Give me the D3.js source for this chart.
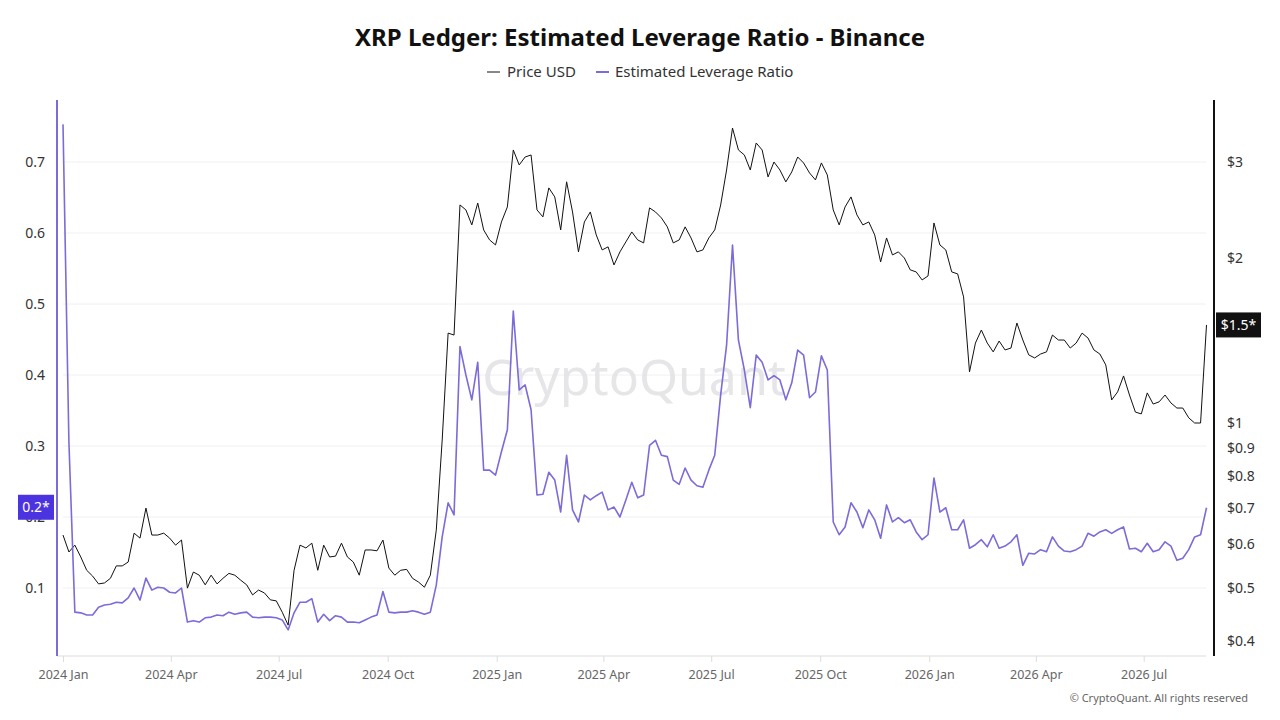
<!DOCTYPE html>
<html>
<head>
<meta charset="utf-8">
<script src="https://cdn.jsdelivr.net/npm/d3@7"></script>
<style>
  body { margin: 0; background: #fff; }
  #chart { width: 1280px; height: 720px; }
  text { font-family: "Segoe UI", "Noto Sans", sans-serif; }
</style>
</head>
<body>
<div id="chart"></div>
<script>
// one point every 5 days, starting 2024-01-01
const startDate = new Date(Date.UTC(2024, 0, 1));
const stepDays = 5;

const priceUSD = [
  0.624,0.581,0.598,0.569,0.538,0.525,0.508,0.510,0.520,0.548,
  0.548,0.557,0.629,0.616,0.699,0.624,0.624,0.629,0.616,0.598,
  0.611,0.499,0.534,0.527,0.506,0.527,0.508,0.520,0.531,0.527,
  0.516,0.506,0.485,0.495,0.489,0.475,0.473,0.451,0.427,0.538,
  0.598,0.591,0.603,0.538,0.598,0.569,0.571,0.603,0.569,0.557,
  0.527,0.586,0.586,0.584,0.611,0.543,0.527,0.538,0.540,0.520,
  0.512,0.501,0.527,0.637,0.931,1.460,1.448,2.504,2.452,2.302,
  2.524,2.254,2.161,2.116,2.331,2.483,3.156,2.963,3.064,3.090,
  2.452,2.381,2.690,2.590,2.254,2.760,2.431,2.055,2.331,2.431,
  2.207,2.072,2.099,1.945,2.055,2.143,2.235,2.161,2.134,2.473,
  2.431,2.371,2.283,2.134,2.161,2.283,2.179,2.055,2.072,2.179,
  2.254,2.504,2.901,3.461,3.156,3.090,2.901,3.250,3.156,2.817,
  3.000,2.901,2.759,2.877,3.064,2.988,2.865,2.782,2.988,2.841,
  2.452,2.302,2.483,2.590,2.401,2.302,2.331,2.207,1.970,2.179,
  2.029,2.055,2.003,1.905,1.889,1.826,1.857,2.321,2.116,2.072,
  1.889,1.873,1.700,1.240,1.400,1.479,1.400,1.349,1.412,1.360,
  1.371,1.523,1.418,1.332,1.315,1.337,1.349,1.448,1.418,1.418,
  1.371,1.400,1.460,1.430,1.360,1.337,1.277,1.102,1.140,1.219,
  1.125,1.047,1.039,1.135,1.083,1.093,1.125,1.088,1.065,1.065,
  1.022,1.000,1.000,1.511
];

const leverageRatio = [
  0.753,0.305,0.066,0.065,0.062,0.062,0.073,0.076,0.077,0.080,
  0.079,0.086,0.100,0.083,0.114,0.097,0.101,0.100,0.094,0.093,
  0.100,0.052,0.054,0.052,0.058,0.059,0.062,0.061,0.066,0.063,
  0.065,0.066,0.059,0.058,0.059,0.059,0.058,0.055,0.041,0.065,
  0.080,0.080,0.085,0.052,0.063,0.054,0.061,0.059,0.052,0.052,
  0.051,0.055,0.059,0.062,0.095,0.066,0.065,0.066,0.066,0.068,
  0.066,0.063,0.066,0.104,0.172,0.220,0.203,0.440,0.400,0.365,
  0.418,0.266,0.266,0.259,0.292,0.323,0.490,0.379,0.386,0.351,
  0.231,0.232,0.263,0.252,0.207,0.287,0.210,0.193,0.231,0.224,
  0.230,0.235,0.210,0.214,0.200,0.224,0.249,0.227,0.231,0.301,
  0.308,0.287,0.285,0.252,0.246,0.269,0.252,0.244,0.242,0.266,
  0.287,0.372,0.442,0.583,0.449,0.407,0.354,0.428,0.418,0.393,
  0.399,0.393,0.365,0.389,0.435,0.428,0.368,0.376,0.427,0.407,
  0.193,0.175,0.186,0.220,0.207,0.185,0.210,0.196,0.170,0.217,
  0.193,0.199,0.192,0.196,0.179,0.168,0.175,0.255,0.207,0.213,
  0.182,0.182,0.196,0.156,0.161,0.168,0.158,0.175,0.156,0.159,
  0.165,0.175,0.132,0.149,0.148,0.154,0.151,0.172,0.159,0.152,
  0.151,0.154,0.159,0.177,0.173,0.179,0.182,0.177,0.182,0.186,
  0.155,0.156,0.151,0.163,0.151,0.154,0.165,0.159,0.139,0.142,
  0.154,0.172,0.175,0.213
];

const leverageTicks = [0.1, 0.2, 0.3, 0.4, 0.5, 0.6, 0.7];
const priceTicks = [0.4, 0.5, 0.6, 0.7, 0.8, 0.9, 1, 2, 3];
const monthTicks = ['2024-01-01','2024-04-01','2024-07-01','2024-10-01','2025-01-01','2025-04-01',
  '2025-07-01','2025-10-01','2026-01-01','2026-04-01','2026-07-01'];

const leverageColor = '#7b6cd9';
const leverageTag = '#4c33e0';
const priceColor = '#111';
const fontStack = '"Segoe UI", "Noto Sans", sans-serif';

function buildRows() {
  return priceUSD.map((p, i) => ({
    date: d3.utcDay.offset(startDate, i * stepDays),
    price: p,
    leverage: leverageRatio[i]
  }));
}

function draw() {
  const rows = buildRows();
  const W = 1280, H = 720;
  const plot = { left: 57, right: 1214, top: 100, bottom: 656 };

  const svg = d3.select('#chart').append('svg')
    .attr('width', W)
    .attr('height', H);

  const x = d3.scaleUtc()
    .domain([startDate, rows[rows.length - 1].date])
    .range([63, 1206.5]);

  const yLev = d3.scaleLinear()
    .domain([0, 0.7])
    .range([659, 162]);

  const yPrice = d3.scaleLog()
    .domain([1, 3])
    .range([423, 162]);

  // title + legend
  svg.append('text')
    .attr('x', W / 2).attr('y', 46)
    .attr('text-anchor', 'middle')
    .style('font-size', '24px')
    .style('font-weight', 700)
    .style('fill', '#111')
    .text('XRP Ledger: Estimated Leverage Ratio - Binance');

  const legend = svg.append('g').attr('transform', 'translate(0,72)');
  legend.append('line').attr('x1', 487).attr('x2', 500).attr('y1', 0).attr('y2', 0)
    .style('stroke', priceColor).style('stroke-width', 1);
  legend.append('text').attr('x', 507).attr('y', 5)
    .style('font-size', '15px').style('fill', '#333').text('Price USD');
  legend.append('line').attr('x1', 596).attr('x2', 609).attr('y1', 0).attr('y2', 0)
    .style('stroke', leverageColor).style('stroke-width', 2);
  legend.append('text').attr('x', 615).attr('y', 5)
    .style('font-size', '15px').style('fill', '#333').text('Estimated Leverage Ratio');

  // grid lines
  svg.append('g')
    .selectAll('line')
    .data(leverageTicks)
    .join('line')
    .attr('x1', 63).attr('x2', 1206)
    .attr('y1', d => yLev(d)).attr('y2', d => yLev(d))
    .style('stroke', '#f0f0f2')
    .style('stroke-width', 1);

  // watermark
  svg.append('text')
    .attr('x', 634).attr('y', 395)
    .attr('text-anchor', 'middle')
    .style('font-size', '50px')
    .style('fill', '#e2e2e6')
    .style('opacity', 0.85)
    .text('CryptoQuant');

  // x axis
  const xAxis = svg.append('g')
    .attr('transform', `translate(0,${plot.bottom})`)
    .call(d3.axisBottom(x)
      .tickValues(monthTicks.map(d => new Date(d + 'T00:00:00Z')))
      .tickFormat(d3.utcFormat('%Y %b'))
      .tickSize(6)
      .tickPadding(8));
  xAxis.select('.domain').attr('d', `M57,0H1206`).style('stroke', '#ddd');
  xAxis.selectAll('.tick line').style('stroke', '#ddd');
  xAxis.selectAll('.tick text')
    .style('font-size', '12.5px')
    .style('fill', '#666')
    .style('font-family', fontStack);

  // left axis (leverage)
  const leftAxis = svg.append('g')
    .attr('transform', `translate(${plot.left},0)`)
    .call(d3.axisLeft(yLev).tickValues(leverageTicks).tickSize(0).tickPadding(12)
      .tickFormat(d3.format('.1f')));
  leftAxis.select('.domain').attr('d', `M0,${plot.top}V${plot.bottom}`)
    .style('stroke', leverageColor).style('stroke-width', 2);
  leftAxis.selectAll('.tick text')
    .style('font-size', '14px')
    .style('fill', '#333')
    .style('font-family', fontStack);

  // right axis (price, log)
  const rightAxis = svg.append('g')
    .attr('transform', `translate(${plot.right},0)`)
    .call(d3.axisRight(yPrice).tickValues(priceTicks).tickSize(0).tickPadding(13)
      .tickFormat(d => '$' + d));
  rightAxis.select('.domain').attr('d', `M0,${plot.top}V${plot.bottom}`)
    .style('stroke', '#111').style('stroke-width', 2);
  rightAxis.selectAll('.tick text')
    .style('font-size', '14px')
    .style('fill', '#333')
    .style('font-family', fontStack);

  // series
  const priceLine = d3.line()
    .x(d => x(d.date))
    .y(d => yPrice(d.price));

  const levLine = d3.line()
    .x(d => x(d.date))
    .y(d => yLev(d.leverage));

  svg.append('path')
    .datum(rows)
    .attr('d', priceLine)
    .style('fill', 'none')
    .style('stroke', priceColor)
    .style('stroke-width', 1)
    .style('stroke-linejoin', 'round');

  svg.append('path')
    .datum(rows)
    .attr('d', levLine)
    .style('fill', 'none')
    .style('stroke', leverageColor)
    .style('stroke-width', 1.6)
    .style('stroke-linejoin', 'round');

  // last value tags
  const last = rows[rows.length - 1];
  const levY = yLev(last.leverage);
  svg.append('rect')
    .attr('x', 18).attr('y', levY - 13).attr('width', 36).attr('height', 25)
    .style('fill', leverageTag);
  svg.append('text')
    .attr('x', 36).attr('y', levY + 4)
    .attr('text-anchor', 'middle')
    .style('font-size', '14px').style('fill', '#fff')
    .text(d3.format('.1f')(last.leverage) + '*');

  const priceY = yPrice(last.price);
  svg.append('rect')
    .attr('x', 1216).attr('y', priceY - 12.5).attr('width', 45).attr('height', 25)
    .style('fill', '#111');
  svg.append('text')
    .attr('x', 1238.5).attr('y', priceY + 5)
    .attr('text-anchor', 'middle')
    .style('font-size', '14px').style('fill', '#fff')
    .text('$' + d3.format('.1f')(last.price) + '*');

  svg.append('text')
    .attr('x', 1248).attr('y', 702)
    .attr('text-anchor', 'end')
    .style('font-size', '11px')
    .style('fill', '#666')
    .text('© CryptoQuant. All rights reserved');
}

draw();
</script>
</body>
</html>
